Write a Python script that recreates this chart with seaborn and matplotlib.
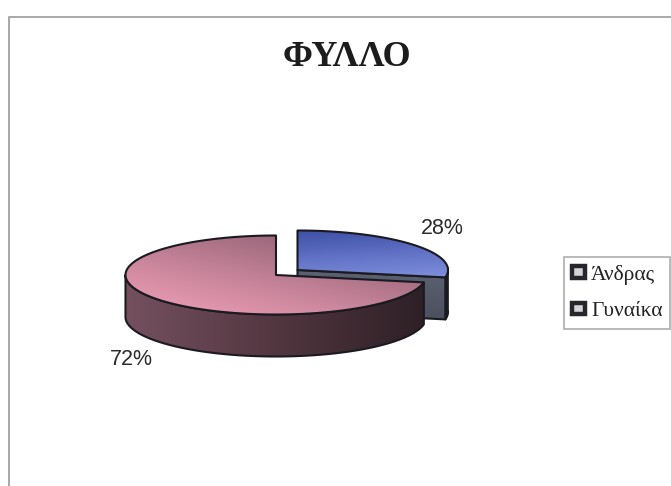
import numpy as np
import matplotlib
matplotlib.use("Agg")
import matplotlib.pyplot as plt
from matplotlib.patches import Polygon, Patch
from matplotlib.lines import Line2D
import seaborn as sns

title = "ΦΥΛΛΟ"
categories = ["Άνδρας", "Γυναίκα"]
values = [28, 72]
pct_labels = ["28%", "72%"]

sns.set_theme(style="white")
plt.rcParams["font.family"] = ["Liberation Serif", "DejaVu Serif"]

W, H = 671, 486
fig = plt.figure(figsize=(W / 100, H / 100), dpi=100, facecolor="white")
ax = fig.add_axes([0, 0, 1, 1])
ax.set_axis_off()

# geometry of the extruded pie (pixel space of the axes)
RX, RY, DEPTH = 150.5, 39.5, 42
centres = [(297.5, 270.0), (276.0, 275.0)]
fracs = np.array(values, dtype=float) / sum(values)
edges = np.concatenate([[0], np.cumsum(fracs)]) * 2 * np.pi


def rim(c, a0, a1, dz=0.0, n=200):
    t = np.linspace(a0, a1, n)
    return np.column_stack([c[0] + RX * np.sin(t), c[1] - RY * np.cos(t) + dz])


def gradient_patch(pts, cmap, angle_deg, zorder):
    """Fill polygon pts with a linear gradient running along angle_deg."""
    x0, y0 = pts.min(axis=0)
    x1, y1 = pts.max(axis=0)
    xx, yy = np.meshgrid(np.linspace(0, 1, 128), np.linspace(0, 1, 128))
    a = np.deg2rad(angle_deg)
    g = xx * np.cos(a) + yy * np.sin(a)
    g = (g - g.min()) / (g.max() - g.min())
    im = ax.imshow(g, cmap=cmap, extent=(x0, x1, y1, y0), aspect="auto",
                   zorder=zorder, interpolation="bilinear")
    poly = Polygon(pts, closed=True, transform=ax.transData, fc="none", ec="none")
    ax.add_patch(poly)
    im.set_clip_path(poly)
    ax.add_patch(Polygon(pts, closed=True, fc="none", ec="#1a1a20", lw=1.5,
                         joinstyle="round", zorder=zorder + 0.1))


blue_top = sns.blend_palette(["#3c50a4", "#6070c4", "#7f8fdc"], as_cmap=True)
blue_cut = sns.blend_palette(["#5c6272", "#4c505e"], as_cmap=True)
blue_side = sns.blend_palette(["#20283c", "#141a2a"], as_cmap=True)
pink_top = sns.blend_palette(["#f0a0b8", "#d08aa0", "#a87084", "#80566a"], as_cmap=True)
pink_side = sns.blend_palette(["#74505e", "#523640", "#2e2026"], as_cmap=True)

# first slice (blue)
c = centres[0]
a0, a1 = edges[0], edges[1]
end = rim(c, a1, a1, n=1)[0]
apex = np.array(c)
outer = np.vstack([rim(c, np.pi / 2 - 0.05, a1), rim(c, a1, np.pi / 2 - 0.05, DEPTH)])
gradient_patch(outer, blue_side, 0, 2)
cut = np.array([apex, end, end + [0, DEPTH], apex + [0, DEPTH]])
gradient_patch(cut, blue_cut, 90, 3)
top = np.vstack([[apex], rim(c, a0, a1)])
gradient_patch(top, blue_top, 80, 4)

# second slice (pink)
c = centres[1]
a0, a1 = edges[1], edges[2]
apex = np.array(c)
side = np.vstack([rim(c, a0, 1.5 * np.pi), rim(c, 1.5 * np.pi, a0, DEPTH)])
gradient_patch(side, pink_side, 0, 5)
top = np.vstack([[apex], rim(c, a0, a1)])
gradient_patch(top, pink_top, -50, 6)

# data labels
lab_font = dict(family="Liberation Sans", fontsize=15.5, color="#2a2a2a",
                ha="center", va="center", zorder=10)
ax.text(442, 228, pct_labels[0], **lab_font)
ax.text(131, 359, pct_labels[1], **lab_font)

# title
ax.text(346.5, 57, title, fontsize=26, fontweight="bold", color="#1c1c1c",
        ha="center", va="center", zorder=10)

# chart frame
ax.add_line(Line2D([9, 9, W], [H, 17, 17], color="#a8a8a8", lw=1.4, zorder=1))

# legend
handles = [Patch(facecolor="#d4d4d8", edgecolor="#26262c", lw=3.2, label=n) for n in categories]
leg = ax.legend(handles=handles, loc="upper left", bbox_to_anchor=(564, 257),
                bbox_transform=ax.transData, frameon=True, fancybox=False,
                fontsize=15.5, handlelength=0.6, handleheight=0.42, handletextpad=0.3,
                labelspacing=0.8, borderpad=0.36, borderaxespad=0, labelcolor="#222222")
leg.get_frame().set_edgecolor("#9a9a9a")
leg.get_frame().set_linewidth(1.2)
leg.set_zorder(9)

ax.set_xlim(0, W)
ax.set_ylim(H, 0)
fig.savefig("out.png", dpi=100, facecolor="white")
